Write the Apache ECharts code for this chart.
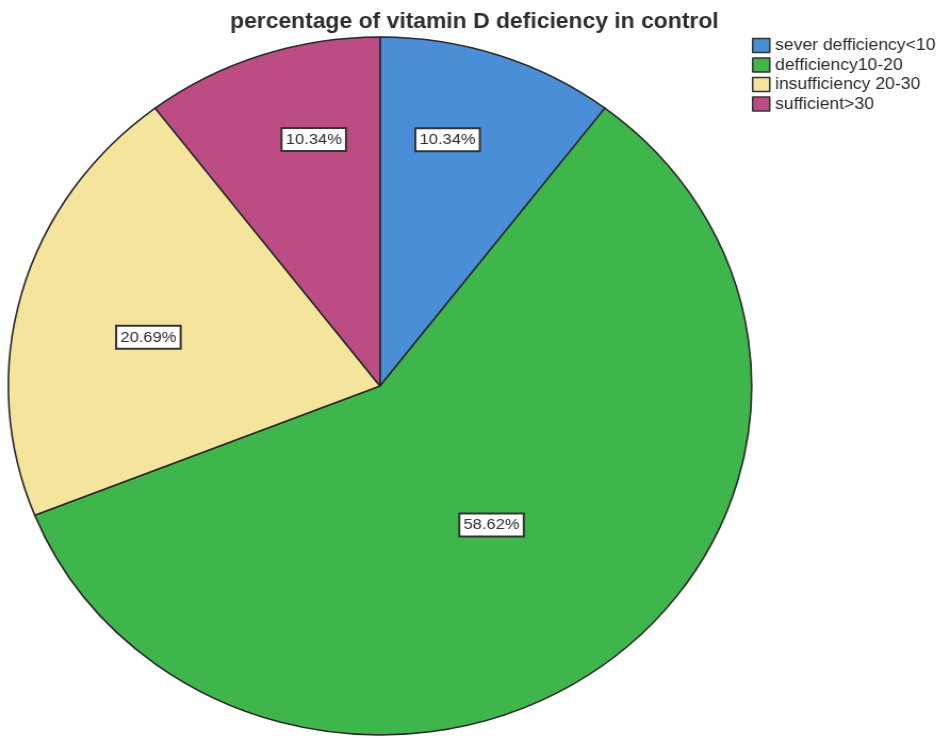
<!DOCTYPE html>
<html>
<head>
<meta charset="utf-8">
<script src="https://cdn.jsdelivr.net/npm/echarts@6/dist/echarts.min.js"></script>
<style>
  html, body { margin: 0; padding: 0; background: #ffffff; overflow: hidden; }
  /* the figure is drawn slightly wider than tall, so the pie reads as an ellipse */
  #chart { width: 883px; height: 738px; transform: scaleX(1.065); transform-origin: 0 0; }
</style>
</head>
<body>
<div id="chart"></div>
<script>
const categories = ['sever defficiency<10', 'defficiency10-20', 'insufficiency 20-30', 'sufficient>30'];
const percentValues = [10.34, 58.62, 20.69, 10.34];
const sliceColors = ['#4a8ed8', '#3fb64b', '#f4e49c', '#bb4d84'];
// label placement per slice: [angle in degrees clockwise from 12 o'clock, fraction of radius]
const labelPlacement = [[14.4, 0.72], [143, 0.49], [282.6, 0.63], [345.9, 0.72]];

const FONT = '"Liberation Sans", Arial, sans-serif';
const center = [356.8, 386];
const radius = 349;

const total = percentValues.reduce((a, b) => a + b, 0);
let cum = 0;
const seriesData = categories.map((name, i) => {
  const mid = (cum + percentValues[i] / 2) / total * 2 * Math.PI;
  cum += percentValues[i];
  const [deg, frac] = labelPlacement[i];
  const b = deg * Math.PI / 180;
  const defX = 0.5 * radius * Math.sin(mid), defY = -0.5 * radius * Math.cos(mid);
  const tgtX = frac * radius * Math.sin(b), tgtY = -frac * radius * Math.cos(b);
  return {
    name: name,
    value: percentValues[i],
    itemStyle: { color: sliceColors[i] },
    label: { offset: [tgtX - defX, tgtY - defY] }
  };
});

const chart = echarts.init(document.getElementById('chart'), null, { renderer: 'canvas' });
chart.setOption({
  backgroundColor: '#ffffff',
  animation: false,
  title: {
    text: 'percentage of vitamin D deficiency in control',
    left: 216,
    top: 11,
    padding: 0,
    textStyle: { fontFamily: FONT, fontSize: 21.5, fontWeight: 'bold', color: '#2e2e2e' }
  },
  legend: {
    orient: 'vertical',
    left: 706,
    top: 37,
    padding: 0,
    itemGap: 2.5,
    itemWidth: 16,
    itemHeight: 14,
    icon: 'rect',
    data: categories,
    itemStyle: { borderColor: '#333333', borderWidth: 1.5 },
    textStyle: { fontFamily: FONT, fontSize: 16.5, lineHeight: 17, color: '#2a2a2a' }
  },
  series: [{
    type: 'pie',
    center: center,
    radius: [0, radius],
    startAngle: 90,
    clockwise: true,
    avoidLabelOverlap: false,
    itemStyle: { borderColor: '#2a2a2a', borderWidth: 1.6 },
    emphasis: { disabled: true },
    label: {
      show: true,
      position: 'inside',
      formatter: p => p.value.toFixed(2) + '%',
      fontFamily: FONT,
      fontSize: 15.5,
      lineHeight: 17,
      color: '#2e2e2e',
      backgroundColor: '#ffffff',
      borderColor: '#333333',
      borderWidth: 2,
      padding: [2, 3, 2, 3]
    },
    labelLine: { show: false },
    data: seriesData
  }]
});
</script>
</body>
</html>
